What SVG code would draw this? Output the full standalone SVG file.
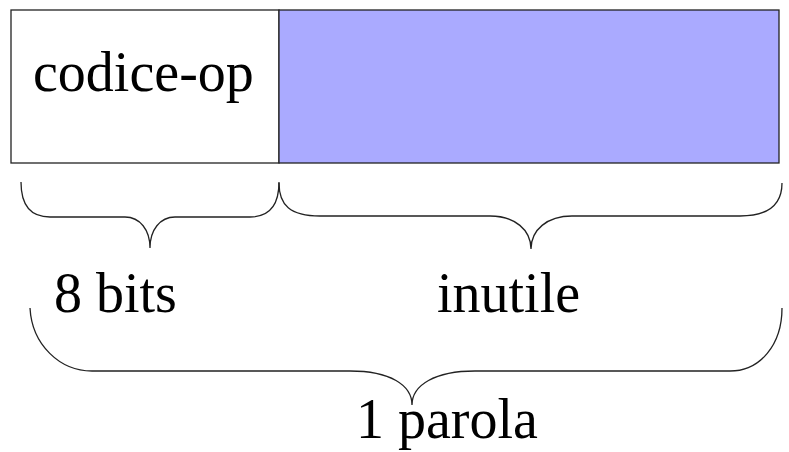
<svg xmlns="http://www.w3.org/2000/svg" width="789" height="452" viewBox="0 0 789 452">
<style>
.t{font-family:"Liberation Serif","Times New Roman",serif;font-size:56px;fill:#000}
.b{fill:none;stroke:#222;stroke-width:1.3}
</style>
<rect width="789" height="452" fill="#fff"/>
<g id="codice-op">
<rect x="11" y="10" width="268" height="153" fill="#fff" stroke="#222" stroke-width="1.3"/>
<text class="t" x="33" y="91">codice-op</text>
</g>
<g id="inutile-field">
<rect x="279" y="10" width="500" height="153" fill="#aaaaff" stroke="#222" stroke-width="1.3"/>
</g>
<g id="connectors">
<path class="b" d="M21,182 C21,205 30,217 50,217 L125,217 C140,217 150,230 150,248 C150,230 160,217 175,217 L250,217 C270,217 279,205 279,182"/>
<path class="b" d="M279,183 C279,205 290,216 320,216 L490,216 C515,216 531,230 531,249 C531,230 547,216 572,216 L740,216 C768,216 782,205 782,183"/>
<path class="b" d="M30,308 C32,345 60,371 92,371 L350,371 C390,371 412,385 412,405 C412,385 435,371 475,371 L730,371 C760,371 782,345 782,308"/>
</g>
<g id="label-8bits"><text class="t" x="54" y="312">8 bits</text></g>
<g id="label-inutile"><text class="t" x="437" y="312">inutile</text></g>
<g id="label-parola"><text class="t" x="356" y="438">1 parola</text></g>
</svg>
